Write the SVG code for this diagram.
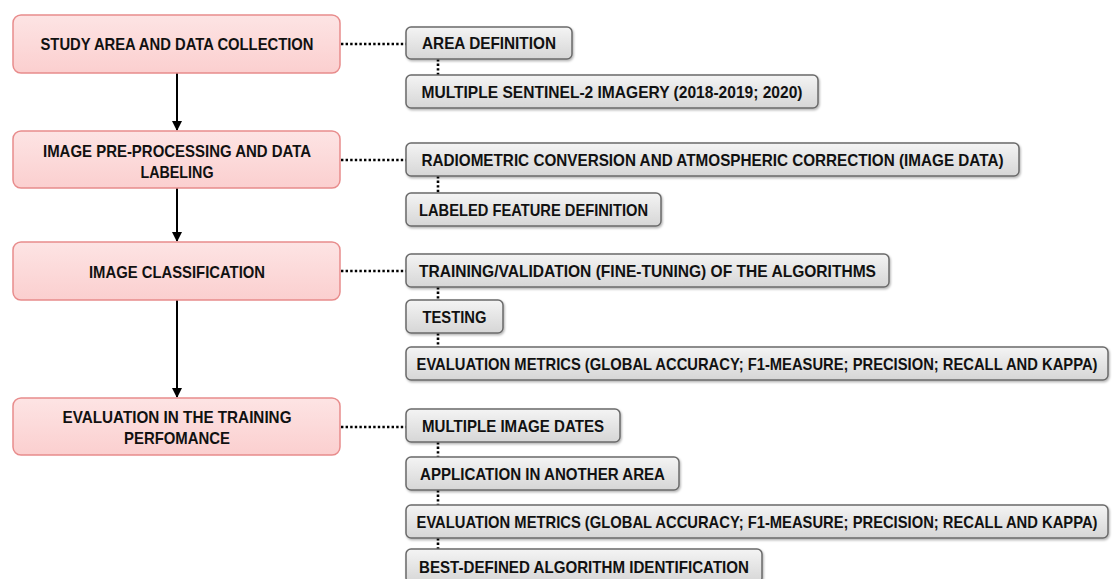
<svg xmlns="http://www.w3.org/2000/svg" width="1113" height="579" viewBox="0 0 1113 579">
<defs>
<linearGradient id="pink" x1="0" y1="0" x2="0" y2="1">
<stop offset="0" stop-color="#fde4e4"/>
<stop offset="1" stop-color="#fbcfcf"/>
</linearGradient>
<linearGradient id="gray" x1="0" y1="0" x2="0" y2="1">
<stop offset="0" stop-color="#f4f4f4"/>
<stop offset="1" stop-color="#d6d6d6"/>
</linearGradient>
<filter id="sh" x="-5%" y="-20%" width="110%" height="150%">
<feDropShadow dx="1" dy="1.5" stdDeviation="1" flood-color="#000" flood-opacity="0.3"/>
</filter>
<marker id="arr" viewBox="0 0 10 10" refX="9" refY="5" markerWidth="5" markerHeight="5" orient="auto">
<path d="M0,0 L10,5 L0,10 z" fill="#000"/>
</marker>
</defs>
<style>
.main rect{fill:url(#pink);stroke:#e88c8c;stroke-width:1.5}
.sub rect{fill:url(#gray);stroke:#6a6a6a;stroke-width:1.5;filter:url(#sh)}
text{font-family:"Liberation Sans",Arial,sans-serif;font-weight:bold;font-size:16.5px;fill:#111}
.c{text-anchor:middle}
.dot{stroke:#000;stroke-width:2.6;stroke-dasharray:2.4 2.2;fill:none}
.arrow{stroke:#000;stroke-width:2;fill:none;marker-end:url(#arr)}
</style>
<g id="connectors">
<line class="arrow" x1="177" y1="73" x2="177" y2="130"/>
<line class="arrow" x1="177" y1="188" x2="177" y2="241"/>
<line class="arrow" x1="177" y1="300" x2="177" y2="397"/>
<line class="dot" x1="341" y1="44" x2="406" y2="44"/>
<line class="dot" x1="341" y1="160" x2="406" y2="160"/>
<line class="dot" x1="341" y1="271" x2="406" y2="271"/>
<line class="dot" x1="341" y1="427" x2="406" y2="427"/>
<line class="dot" x1="438" y1="59" x2="438" y2="75"/>
<line class="dot" x1="438" y1="176" x2="438" y2="193"/>
<line class="dot" x1="438" y1="287" x2="438" y2="300"/>
<line class="dot" x1="438" y1="333" x2="438" y2="347"/>
<line class="dot" x1="438" y1="442" x2="438" y2="457"/>
<line class="dot" x1="438" y1="490" x2="438" y2="505"/>
<line class="dot" x1="438" y1="538" x2="438" y2="549"/>
</g>
<g id="n1" class="main"><rect x="13" y="15" width="327" height="58" rx="8"/><text class="c" x="177" y="50" textLength="273" lengthAdjust="spacingAndGlyphs">STUDY AREA AND DATA COLLECTION</text></g>
<g id="n2" class="main"><rect x="13" y="131" width="327" height="57" rx="8"/><text class="c" x="177" y="156.5" textLength="268" lengthAdjust="spacingAndGlyphs">IMAGE PRE-PROCESSING AND DATA</text><text class="c" x="177" y="177.5" textLength="73" lengthAdjust="spacingAndGlyphs">LABELING</text></g>
<g id="n3" class="main"><rect x="13" y="242" width="327" height="58" rx="8"/><text class="c" x="177" y="277.5" textLength="176" lengthAdjust="spacingAndGlyphs">IMAGE CLASSIFICATION</text></g>
<g id="n4" class="main"><rect x="13" y="398" width="327" height="57" rx="8"/><text class="c" x="177" y="422.5" textLength="229" lengthAdjust="spacingAndGlyphs">EVALUATION IN THE TRAINING</text><text class="c" x="177" y="443.5" textLength="106" lengthAdjust="spacingAndGlyphs">PERFOMANCE</text></g>
<g id="s1" class="sub"><rect x="406" y="27" width="166" height="32" rx="5"/><text class="c" x="489" y="49" textLength="134" lengthAdjust="spacingAndGlyphs">AREA DEFINITION</text></g>
<g id="s2" class="sub"><rect x="406" y="75" width="412" height="33" rx="5"/><text class="c" x="612" y="97.5" textLength="381" lengthAdjust="spacingAndGlyphs">MULTIPLE SENTINEL-2 IMAGERY (2018-2019; 2020)</text></g>
<g id="s3" class="sub"><rect x="406" y="143" width="613" height="33" rx="5"/><text class="c" x="712.5" y="165.5" textLength="582" lengthAdjust="spacingAndGlyphs">RADIOMETRIC CONVERSION AND ATMOSPHERIC CORRECTION (IMAGE DATA)</text></g>
<g id="s4" class="sub"><rect x="406" y="193" width="255" height="33" rx="5"/><text class="c" x="533.5" y="215.5" textLength="229" lengthAdjust="spacingAndGlyphs">LABELED FEATURE DEFINITION</text></g>
<g id="s5" class="sub"><rect x="406" y="254" width="483" height="33" rx="5"/><text class="c" x="647.5" y="276.5" textLength="457" lengthAdjust="spacingAndGlyphs">TRAINING/VALIDATION (FINE-TUNING) OF THE ALGORITHMS</text></g>
<g id="s6" class="sub"><rect x="406" y="300" width="97" height="33" rx="5"/><text class="c" x="454.5" y="322.5" textLength="64" lengthAdjust="spacingAndGlyphs">TESTING</text></g>
<g id="s7" class="sub"><rect x="406" y="347" width="702" height="33" rx="5"/><text class="c" transform="translate(757,369.5) scale(0.78,1)" x="0" y="0" textLength="873" lengthAdjust="spacingAndGlyphs">EVALUATION METRICS (GLOBAL ACCURACY; F1-MEASURE; PRECISION; RECALL AND KAPPA)</text></g>
<g id="s8" class="sub"><rect x="406" y="409" width="214" height="33" rx="5"/><text class="c" x="513" y="431.5" textLength="182" lengthAdjust="spacingAndGlyphs">MULTIPLE IMAGE DATES</text></g>
<g id="s9" class="sub"><rect x="406" y="457" width="273" height="33" rx="5"/><text class="c" x="542.5" y="479.5" textLength="245" lengthAdjust="spacingAndGlyphs">APPLICATION IN ANOTHER AREA</text></g>
<g id="s10" class="sub"><rect x="406" y="505" width="702" height="33" rx="5"/><text class="c" transform="translate(757,527.5) scale(0.78,1)" x="0" y="0" textLength="873" lengthAdjust="spacingAndGlyphs">EVALUATION METRICS (GLOBAL ACCURACY; F1-MEASURE; PRECISION; RECALL AND KAPPA)</text></g>
<g id="s11" class="sub"><rect x="406" y="549" width="356" height="34" rx="5"/><text class="c" x="584" y="573" textLength="330" lengthAdjust="spacingAndGlyphs">BEST-DEFINED ALGORITHM IDENTIFICATION</text></g>
</svg>
